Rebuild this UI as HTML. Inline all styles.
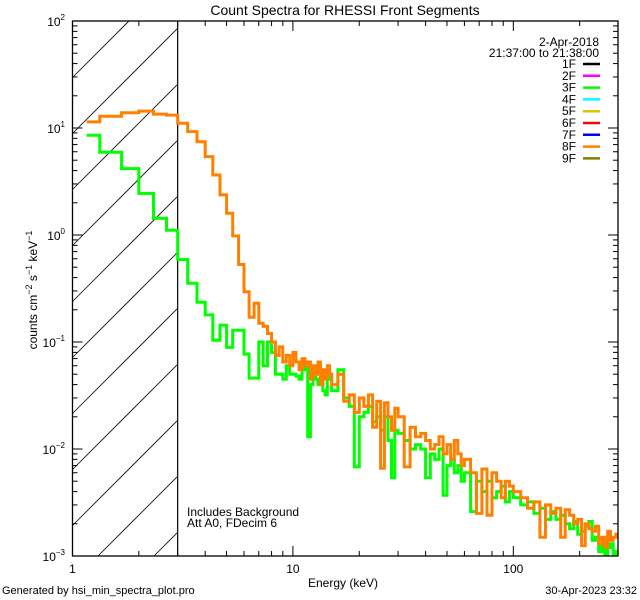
<!DOCTYPE html>
<html><head><meta charset="utf-8"><style>
html,body{margin:0;padding:0;background:#fff;}
svg{display:block;font-family:"Liberation Sans",sans-serif;}
</style></head><body>
<svg id="chart" width="640" height="600" viewBox="0 0 640 600">
<rect width="640" height="600" fill="#fff"/>
<defs><clipPath id="plotclip"><rect x="72.5" y="21" width="545.5" height="535"/></clipPath></defs>
<g id="hatch"></g>
<g id="series" clip-path="url(#plotclip)"></g>
<g id="axes"></g>
<text x="345" y="15" text-anchor="middle" font-size="14">Count Spectra for RHESSI Front Segments</text>
<text transform="translate(37,290) rotate(-90)" text-anchor="middle" font-size="12">counts cm<tspan dy="-5" font-size="9">−2</tspan><tspan dy="5"> s</tspan><tspan dy="-5" font-size="9">−1</tspan><tspan dy="5"> keV</tspan><tspan dy="-5" font-size="9">−1</tspan></text>
<text x="343" y="587" text-anchor="middle" font-size="12">Energy (keV)</text>
<text x="2" y="594" font-size="11">Generated by hsi_min_spectra_plot.pro</text>
<text x="637" y="594" text-anchor="end" font-size="11">30-Apr-2023 23:32</text>
<text x="187" y="516" font-size="12">Includes Background</text>
<text x="187" y="527" font-size="12">Att A0, FDecim 6</text>
<g id="legend"></g>
</svg>
<script>
const NS="http://www.w3.org/2000/svg";
// ---- data ----
const binEdges=[1.16,1.33,1.67,2.0,2.33,2.67,3.0,3.33,3.67,4.0,4.33,4.67,5.0,5.33,5.67,6.0,6.33,6.67,7.0,7.33,7.67,8.0,
8.33,8.67,9.0,9.33,9.67,10.0,10.33,10.67,11.0,11.33,11.67,12.0,12.33,12.67,13.0,13.33,13.67,14.0,14.33,14.67,15.0,
16,17,18,19,20,21,22,23,24,25,26,27,28,29,30,
32,34,36,38,40,42,44,46,48,50,52,54,56,58,60,
64,68,72,76,80,84,88,92,96,100,
108,116,124,132,140,148,156,164,172,180,188,196,204,212,220,228,236,244,252,260,268,276,284,292,300];
const seg8F=[11.4,12.9,13.9,14.4,13.5,13.2,11.1,9.25,7.45,5.4,3.64,2.37,1.6,0.98,0.53,0.295,0.17,0.23,0.15,0.14,0.12,
0.10,0.075,0.09,0.065,0.075,0.06,0.08,0.065,0.055,0.07,0.06,0.065,0.045,0.06,0.05,0.065,0.04,0.055,0.045,0.06,0.05,
0.04,0.05,0.028,0.032,0.022,0.03,0.025,0.032,0.016,0.028,0.0066,0.027,0.02,0.015,0.024,
0.02,0.0068,0.016,0.013,0.014,0.012,0.01,0.011,0.013,0.009,0.011,0.008,0.012,0.009,0.007,
0.008,0.006,0.0025,0.0065,0.0024,0.006,0.005,0.0035,0.005,0.0045,
0.004,0.0035,0.0028,0.0032,0.0015,0.003,0.0025,0.0028,0.0015,0.0027,0.0024,0.002,0.0022,0.00125,0.002,0.0018,0.0017,0.0019,0.0013,0.0015,0.0012,0.0017,0.0014,0.0015,0.0016];
const seg3F=[8.55,5.93,4.17,2.45,1.43,1.11,0.59,0.354,0.235,0.179,0.104,0.144,0.089,0.129,0.129,0.077,0.046,0.046,0.1,0.06,0.1,
0.08,0.05,0.05,0.045,0.06,0.05,0.05,0.048,0.045,0.055,0.065,0.013,0.04,0.05,0.045,0.04,0.05,0.035,0.032,0.045,0.05,
0.035,0.055,0.03,0.025,0.0068,0.02,0.022,0.025,0.018,0.02,0.015,0.02,0.012,0.0054,0.015,
0.014,0.012,0.01,0.011,0.01,0.0054,0.009,0.008,0.01,0.0037,0.007,0.008,0.006,0.007,0.005,
0.006,0.0026,0.005,0.004,0.005,0.0035,0.004,0.0045,0.0032,0.004,
0.0035,0.003,0.0032,0.0025,0.0028,0.0022,0.0026,0.0022,0.0024,0.002,0.0018,0.0021,0.0016,0.0017,0.0019,0.0021,0.0014,0.0015,0.0011,0.0013,0.0009,0.0012,0.0013,0.0008,0.0011];
const xTickLabels=["1","10","100"];
const xTickValues=[1,10,100];
const yTickExps=[2,1,0,-1,-2,-3];
const legendLabels=["1F","2F","3F","4F","5F","6F","7F","8F","9F"];
const legendColors=["#000000","#ff00ff","#00ff00","#00ffff","#d4c800","#ff0000","#0000ff","#ff8000","#808000"];
const threshold=3;
// ---- axes ----
const X0=72.5,X1=618,Y0=21,Y1=556,XMIN=0,XMAX=Math.log10(298.5),YMIN=-3,YMAX=2;
const xs=v=>X0+(Math.log10(v)-XMIN)/(XMAX-XMIN)*(X1-X0);
const ys=v=>Y1-(Math.log10(v)-YMIN)/(YMAX-YMIN)*(Y1-Y0);
function mk(tag,attrs,parent){const e=document.createElementNS(NS,tag);for(const k in attrs)e.setAttribute(k,attrs[k]);parent.appendChild(e);return e;}
const axes=document.getElementById('axes');
const frame=mk('rect',{x:X0,y:Y0,width:X1-X0,height:Y1-Y0,fill:'none',stroke:'#000','stroke-width':1.3},axes);


// x ticks
for(let d=0;d<3;d++){for(let m=1;m<10;m++){const v=m*Math.pow(10,d);if(v>298.5)continue;const x=xs(v);const L=m===1?10:5;
 const t1=mk('line',{x1:x,y1:Y1,x2:x,y2:Y1-L,stroke:'#000'},axes);
 
 
 const t2=mk('line',{x1:x,y1:Y0,x2:x,y2:Y0+L,stroke:'#000'},axes);
 
 }}
xTickValues.forEach((v,i)=>{const t=mk('text',{x:xs(v),y:573,'text-anchor':'middle','font-size':12},axes);t.textContent=xTickLabels[i];
 
 });
// y ticks
for(let e=-3;e<2;e++){for(let m=1;m<10;m++){const v=m*Math.pow(10,e);const y=ys(v);const L=m===1?10:5;
 const t1=mk('line',{x1:X0,y1:y,x2:X0+L,y2:y,stroke:'#000'},axes);
 
 
 const t2=mk('line',{x1:X1,y1:y,x2:X1-L,y2:y,stroke:'#000'},axes);
 
 }}
yTickExps.forEach(e=>{const y=ys(Math.pow(10,e));const t=mk('text',{x:65,y:y+5,'text-anchor':'end','font-size':12},axes);
 t.innerHTML='10<tspan dy="-6" font-size="8">'+(e<0?'−'+(-e):e)+'</tspan>';
 
 });
// hatch
const hatch=document.getElementById('hatch');
const xt=xs(threshold);
for(let k=0;k<13;k++){const c=94+56*k;
 let xa=Math.max(X0,c-Y1),xb=Math.min(xt,c-Y0);if(xb<=xa)continue;
 const l=mk('line',{x1:xa,y1:c-xa,x2:xb,y2:c-xb,stroke:'#000','stroke-width':0.8},hatch);
 
 }
const thr=mk('line',{x1:xt,y1:Y0,x2:xt,y2:Y1,stroke:'#000','stroke-width':1.2},hatch);


// series
const sg=document.getElementById('series');
function stepPath(vals){let d='';for(let i=0;i<vals.length;i++){const x0=xs(binEdges[i]),x1=xs(binEdges[i+1]),y=ys(Math.max(vals[i],1e-4));
 d+=(i===0?'M':'L')+x0.toFixed(1)+','+y.toFixed(1)+'L'+x1.toFixed(1)+','+y.toFixed(1);}return d;}
const p3=mk('path',{d:stepPath(seg3F),fill:'none',stroke:'#00ff00','stroke-width':3},sg);


const p8=mk('path',{d:stepPath(seg8F),fill:'none',stroke:'#ff8000','stroke-width':3},sg);


// legend
const lg=document.getElementById('legend');
const d1=mk('text',{x:599,y:46,'text-anchor':'end','font-size':12},lg);d1.textContent='2-Apr-2018';


const d2=mk('text',{x:599,y:57,'text-anchor':'end','font-size':12},lg);d2.textContent='21:37:00 to 21:38:00';


legendLabels.forEach((s,i)=>{const y=64+11.8*i;
 const t=mk('text',{x:576,y:y+4,'text-anchor':'end','font-size':12},lg);t.textContent=s;
 
 
 const l=mk('line',{x1:583,y1:y,x2:600,y2:y,stroke:legendColors[i],'stroke-width':2.5},lg);
 
 });
</script>
</body></html>
